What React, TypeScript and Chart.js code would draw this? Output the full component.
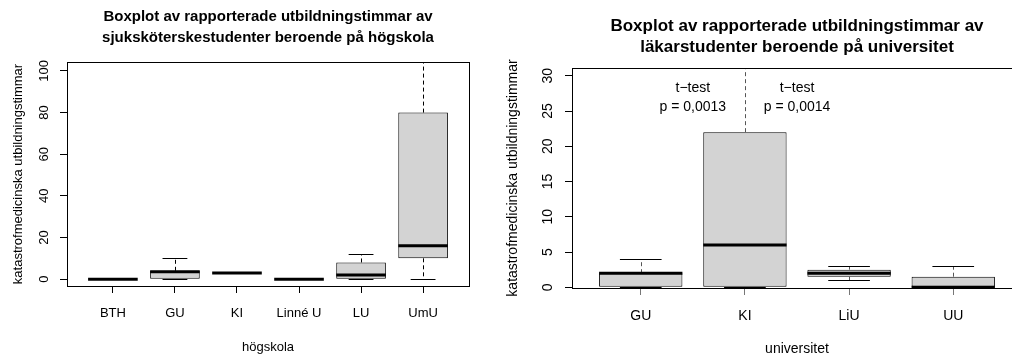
import React, { useEffect, useRef } from "react";
import { Chart, registerables } from "chart.js";

Chart.register(...registerables);

// ---------- Left chart: sjuksköterskestudenter per högskola ----------
const leftCategories = ["BTH", "GU", "KI", "Linné U", "LU", "UmU"];
const leftLowerWhisker = [0, 0, 3, 0, 0, 0];
const leftQ1 = [0, 0, 3, 0, 0, 10];
const leftMedian = [0, 3.5, 3, 0, 2, 16];
const leftQ3 = [0, 4, 3, 0, 8, 80];
const leftUpperWhisker = [0, 10, 3, 0, 12, 110];
const leftYTicks = [0, 20, 40, 60, 80, 100];
const leftTitle = ["Boxplot av rapporterade utbildningstimmar av", "sjuksköterskestudenter beroende på högskola"];
const leftXTitle = "högskola";

// ---------- Right chart: läkarstudenter per universitet ----------
const rightCategories = ["GU", "KI", "LiU", "UU"];
const rightLowerWhisker = [0, 0, 1, 0];
const rightQ1 = [0, 0, 1.5, 0];
const rightMedian = [2, 6, 2, 0];
const rightQ3 = [2, 22, 2.5, 1.5];
const rightUpperWhisker = [4, 33, 3, 3];
const rightYTicks = [0, 5, 10, 15, 20, 25, 30];
const rightTitle = ["Boxplot av rapporterade utbildningstimmar av", "läkarstudenter beroende på universitet"];
const rightXTitle = "universitet";

const yTitleText = "katastrofmedicinska utbildningstimmar";

// annotations (right chart), in data coordinates
const annotationX = [0.5, 1.5];
const annotationTestLabels = ["t−test", "t−test"];
const annotationPValues = ["p = 0,0013", "p = 0,0014"];
const annotationTestY = [28.2, 28.2];
const annotationPY = [25.5, 25.5];

const FAMILY = "'Liberation Sans', Arial, Helvetica, sans-serif";

type Spec = {
  cats: string[];
  lo: number[];
  q1: number[];
  med: number[];
  q3: number[];
  hi: number[];
  yTicks: number[];
  yMin: number;
  yMax: number;
  xMin: number;
  xMax: number;
  title: string[];
  xTitle: string;
  fontSize: number;
  titleSize: number;
  titleLineHeight: number;
  titlePadTop: number;
  titlePadBottom: number;
  yAxisW: number;
  xAxisH: number;
  padRight: number;
  yTickPad: number;
  xTickPad: number;
  yTitlePad: number;
  xTitlePad: number;
  xTickColor: string;
  whiskerColor: string;
  annotations: boolean;
};

const leftSpec: Spec = {
  cats: leftCategories,
  lo: leftLowerWhisker,
  q1: leftQ1,
  med: leftMedian,
  q3: leftQ3,
  hi: leftUpperWhisker,
  yTicks: leftYTicks,
  yMin: -3.3,
  yMax: 104.3,
  xMin: -0.74,
  xMax: 5.74,
  title: leftTitle,
  xTitle: leftXTitle,
  fontSize: 13,
  titleSize: 15,
  titleLineHeight: 1.4,
  titlePadTop: 6.5,
  titlePadBottom: 13.5,
  yAxisW: 67,
  xAxisH: 72,
  padRight: 31,
  yTickPad: 5,
  xTickPad: 13,
  yTitlePad: 10.5,
  xTitlePad: 2.5,
  xTickColor: "#000",
  whiskerColor: "#000",
  annotations: false,
};

const rightSpec: Spec = {
  cats: rightCategories,
  lo: rightLowerWhisker,
  q1: rightQ1,
  med: rightMedian,
  q3: rightQ3,
  hi: rightUpperWhisker,
  yTicks: rightYTicks,
  yMin: -0.1,
  yMax: 31.1,
  xMin: -0.66,
  xMax: 3.66,
  title: rightTitle,
  xTitle: rightXTitle,
  fontSize: 14,
  titleSize: 17,
  titleLineHeight: 1.235,
  titlePadTop: 15.5,
  titlePadBottom: 10.5,
  yAxisW: 72,
  xAxisH: 70,
  padRight: 8,
  yTickPad: 9.5,
  xTickPad: 12.5,
  yTitlePad: 4.6,
  xTitlePad: 0.6,
  xTickColor: "#777",
  whiskerColor: "#555",
  annotations: true,
};

function makePlugin(s: Spec) {
  return {
    id: "boxplotExtras",
    afterDatasetsDraw(chart: any) {
      const { ctx, chartArea } = chart;
      const xs = chart.scales.x;
      const ys = chart.scales.y;
      const meta = chart.getDatasetMeta(0);
      ctx.save();
      ctx.beginPath();
      ctx.rect(chartArea.left, chartArea.top, chartArea.right - chartArea.left, chartArea.bottom - chartArea.top);
      ctx.clip();
      s.cats.forEach((_, i) => {
        const bar = meta.data[i];
        const cx = xs.getPixelForValue(i);
        const w = bar ? bar.width : 40;
        const yLo = ys.getPixelForValue(s.lo[i]);
        const yQ1 = ys.getPixelForValue(s.q1[i]);
        const yMed = ys.getPixelForValue(s.med[i]);
        const yQ3 = ys.getPixelForValue(s.q3[i]);
        const yHi = ys.getPixelForValue(s.hi[i]);
        const px = Math.round(cx) + 0.5;
        // whiskers (dashed)
        ctx.strokeStyle = s.whiskerColor;
        ctx.lineWidth = 1;
        ctx.setLineDash([4, 3]);
        if (s.hi[i] > s.q3[i]) {
          ctx.beginPath();
          ctx.moveTo(px, yQ3);
          ctx.lineTo(px, yHi);
          ctx.stroke();
        }
        if (s.lo[i] < s.q1[i]) {
          ctx.beginPath();
          ctx.moveTo(px, yQ1);
          ctx.lineTo(px, yLo);
          ctx.stroke();
        }
        ctx.setLineDash([]);
        // staples
        ctx.strokeStyle = "#000";
        ctx.beginPath();
        ctx.moveTo(cx - w / 4, Math.round(yHi) + 0.5);
        ctx.lineTo(cx + w / 4, Math.round(yHi) + 0.5);
        ctx.moveTo(cx - w / 4, Math.round(yLo) + 0.5);
        ctx.lineTo(cx + w / 4, Math.round(yLo) + 0.5);
        ctx.stroke();
        // median
        ctx.lineWidth = 3;
        ctx.beginPath();
        ctx.moveTo(cx - w / 2, yMed);
        ctx.lineTo(cx + w / 2, yMed);
        ctx.stroke();
      });
      ctx.restore();

      // plot frame
      ctx.save();
      ctx.strokeStyle = "#000";
      ctx.lineWidth = 1;
      ctx.strokeRect(
        Math.round(chartArea.left) + 0.5,
        Math.round(chartArea.top) + 0.5,
        Math.round(chartArea.right - chartArea.left),
        Math.round(chartArea.bottom - chartArea.top)
      );
      ctx.restore();

      if (s.annotations) {
        ctx.save();
        ctx.fillStyle = "#000";
        ctx.font = `${s.fontSize}px ${FAMILY}`;
        ctx.textAlign = "center";
        ctx.textBaseline = "middle";
        annotationX.forEach((ax, i) => {
          const px = xs.getPixelForValue(ax);
          ctx.fillText(annotationTestLabels[i], px, ys.getPixelForValue(annotationTestY[i]));
          ctx.fillText(annotationPValues[i], px, ys.getPixelForValue(annotationPY[i]));
        });
        ctx.restore();
      }
    },
  };
}

function buildConfig(s: Spec): any {
  const font = { family: FAMILY, size: s.fontSize, lineHeight: 1.2 };
  return {
    type: "bar",
    data: {
      datasets: [
        {
          data: s.cats.map((_, i) => ({ x: i, y: [s.q1[i], s.q3[i]] })),
          backgroundColor: "#D3D3D3",
          borderColor: "#000",
          borderWidth: 1,
          borderSkipped: false,
          categoryPercentage: 1,
          barPercentage: 0.8,
        },
      ],
    },
    options: {
      animation: false,
      responsive: false,
      maintainAspectRatio: false,
      layout: { padding: { left: 0, right: s.padRight, top: 0, bottom: 0 } },
      plugins: {
        legend: { display: false },
        tooltip: { enabled: false },
        title: {
          display: true,
          text: s.title,
          fullSize: false,
          color: "#000",
          font: { family: FAMILY, size: s.titleSize, weight: "bold", lineHeight: s.titleLineHeight },
          padding: { top: s.titlePadTop, bottom: s.titlePadBottom },
        },
      },
      scales: {
        x: {
          type: "linear",
          min: s.xMin,
          max: s.xMax,
          offset: false,
          grid: {
            offset: false,
            drawOnChartArea: false,
            drawTicks: true,
            tickLength: 7,
            color: s.xTickColor,
            lineWidth: 1,
          },
          border: { display: false },
          ticks: {
            color: "#000",
            font,
            padding: s.xTickPad,
            autoSkip: false,
            maxRotation: 0,
            minRotation: 0,
            callback: (v: number) => s.cats[v] ?? "",
          },
          afterBuildTicks: (axis: any) => {
            axis.ticks = s.cats.map((_, i) => ({ value: i }));
          },
          afterFit: (axis: any) => {
            axis.height = s.xAxisH;
          },
          title: {
            display: true,
            text: s.xTitle,
            color: "#000",
            font,
            padding: { top: 0, bottom: s.xTitlePad },
          },
        },
        y: {
          type: "linear",
          min: s.yMin,
          max: s.yMax,
          grid: {
            drawOnChartArea: false,
            drawTicks: true,
            tickLength: 7,
            color: "#000",
            lineWidth: 1,
          },
          border: { display: false },
          ticks: {
            color: "#000",
            font,
            padding: s.yTickPad,
            minRotation: 90,
            maxRotation: 90,
            crossAlign: "center",
            autoSkip: false,
          },
          afterBuildTicks: (axis: any) => {
            axis.ticks = s.yTicks.map((v) => ({ value: v }));
          },
          afterFit: (axis: any) => {
            axis.width = s.yAxisW;
          },
          title: {
            display: true,
            text: yTitleText,
            color: "#000",
            font,
            padding: { top: s.yTitlePad, bottom: 0 },
          },
        },
      },
    },
    plugins: [makePlugin(s)],
  };
}

function BoxChart({ spec, left, width }: { spec: Spec; left: number; width: number }) {
  const ref = useRef<HTMLCanvasElement | null>(null);
  useEffect(() => {
    if (!ref.current) return;
    const chart = new Chart(ref.current, buildConfig(spec));
    return () => chart.destroy();
  }, [spec]);
  return (
    <canvas
      ref={ref}
      width={width}
      height={358}
      style={{ position: "absolute", left, top: 0, width, height: 358, display: "block" }}
    />
  );
}

export default function App() {
  return (
    <div
      style={{
        position: "fixed",
        left: 0,
        top: 0,
        width: 1012,
        height: 358,
        overflow: "hidden",
        background: "#fff",
      }}
    >
      <BoxChart spec={leftSpec} left={0} width={500} />
      <BoxChart spec={rightSpec} left={500} width={530} />
    </div>
  );
}
